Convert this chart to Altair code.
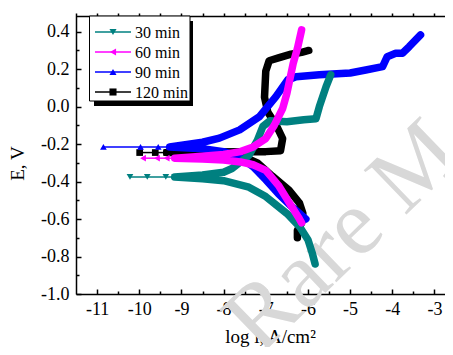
import altair as alt
import pandas as pd

# ---------------- data ----------------
series = ["30 min", "60 min", "90 min", "120 min"]
colors = ["#008080", "#ff00ff", "#0000ff", "#000000"]
shapes = ["triangle-down", "triangle-left", "triangle-up", "square"]

x_ticks = [-11, -10, -9, -8, -7, -6, -5, -4, -3]
x_minor = [-10.5, -9.5, -8.5, -7.5, -6.5, -5.5, -4.5, -3.5]
y_ticks = [-1.0, -0.8, -0.6, -0.4, -0.2, 0.0, 0.2, 0.4]
y_minor = [-0.9, -0.7, -0.5, -0.3, -0.1, 0.1, 0.3]

# 30 min
tip30_logi = [-10.22, -9.81, -9.37, -9.16, -9.02, -8.9]
tip30_E = -0.375
cath30_logi = [-9.16, -8.5, -8.0, -7.4, -7.0, -6.5, -6.2, -6.0, -5.9, -5.83]
cath30_E = [-0.375, -0.385, -0.395, -0.43, -0.48, -0.57, -0.64, -0.71, -0.78, -0.84]
anod30_logi = [-9.16, -8.5, -8.0, -7.8, -7.4, -7.2, -7.07, -6.9, -6.5, -6.1, -5.81, -5.73, -5.57, -5.46]
anod30_E = [-0.375, -0.365, -0.35, -0.33, -0.26, -0.18, -0.106, -0.075, -0.08, -0.07, -0.065, 0.0, 0.107, 0.17]

# 60 min
tip60_logi = [-9.91, -9.58, -9.35, -9.16, -9.02, -8.9]
tip60_E = -0.275
cath60_logi = [-9.16, -8.5, -8.0, -7.6, -7.3, -7.0, -6.7, -6.45, -6.2, -6.15]
cath60_E = [-0.275, -0.28, -0.285, -0.295, -0.31, -0.34, -0.42, -0.51, -0.60, -0.62]
anod60_logi = [-9.16, -8.5, -8.0, -7.6, -7.3, -7.0, -6.8, -6.6, -6.5, -6.35, -6.25, -6.15]
anod60_E = [-0.275, -0.265, -0.255, -0.24, -0.215, -0.17, -0.10, -0.01, 0.07, 0.23, 0.31, 0.41]

# 90 min
tip90_logi = [-10.85, -9.97, -9.55, -9.28, -9.12, -8.98]
tip90_E = -0.215
cath90_logi = [-9.28, -8.5, -8.0, -7.6, -7.3, -7.0, -6.7, -6.4, -6.05]
cath90_E = [-0.215, -0.225, -0.24, -0.27, -0.32, -0.39, -0.465, -0.53, -0.60]
anod90_logi = [-9.28, -8.5, -8.1, -7.62, -7.15, -6.76, -6.48, -6.28, -5.73, -5.0, -4.63,
               -4.23, -4.12, -3.92, -3.76, -3.6, -3.33]
anod90_E = [-0.215, -0.19, -0.168, -0.124, -0.053, 0.054, 0.143, 0.16, 0.17, 0.18, 0.196,
            0.214, 0.267, 0.285, 0.285, 0.32, 0.383]

# 120 min
tip120_logi = [-9.99, -9.62, -9.35]
tip120_E = -0.245
cath120_logi = [-9.35, -8.5, -7.7, -7.4, -7.2, -6.85, -6.45, -6.2, -6.12, -6.15, -6.25, -6.25]
cath120_E = [-0.245, -0.25, -0.265, -0.28, -0.30, -0.37, -0.445, -0.515, -0.57, -0.62, -0.66, -0.70]
anod120_logi = [-9.35, -8.5, -7.5, -7.0, -6.65, -6.6, -6.75, -6.95, -7.03, -7.0, -6.92, -6.7,
                -6.4, -6.15, -5.98]
anod120_E = [-0.245, -0.242, -0.24, -0.24, -0.235, -0.17, -0.10, -0.03, 0.05, 0.19, 0.245,
             0.26, 0.28, 0.29, 0.30]

data_sets = {
    "30 min": (tip30_logi, tip30_E, cath30_logi, cath30_E, anod30_logi, anod30_E),
    "60 min": (tip60_logi, tip60_E, cath60_logi, cath60_E, anod60_logi, anod60_E),
    "90 min": (tip90_logi, tip90_E, cath90_logi, cath90_E, anod90_logi, anod90_E),
    "120 min": (tip120_logi, tip120_E, cath120_logi, cath120_E, anod120_logi, anod120_E),
}

# ---------------- chart ----------------
FONT = "Liberation Serif"
W, H = 369, 281
xs = alt.Scale(domain=[-11.5, -2.75], nice=False, zero=False)
ys = alt.Scale(domain=[-1.0, 0.5], nice=False, zero=False)
one = pd.DataFrame({"a": [0]})

layers = []

# watermark
layers.append(
    alt.Chart(one).mark_text(text="Rare M", font=FONT, fontSize=94, color="#d8d8d8",
                             angle=316, align="left", baseline="alphabetic")
    .encode(x=alt.value(184), y=alt.value(343))
)

draw_order = ["120 min", "90 min", "30 min", "60 min"]
for name in draw_order:
    i = series.index(name)
    col, shp = colors[i], shapes[i]
    tl, te, cl, ce, al, ae = data_sets[name]
    band_pts = list(zip(reversed(cl), reversed(ce))) + list(zip(al[1:], ae[1:]))
    band = pd.DataFrame({"logi": [p[0] for p in band_pts], "E": [p[1] for p in band_pts],
                         "ord": list(range(len(band_pts)))})
    tip = pd.DataFrame({"logi": tl, "E": [te] * len(tl)})
    thin = pd.DataFrame({"logi": [tl[0], cl[0]], "E": [te, ce[0]]})
    layers.append(alt.Chart(thin).mark_line(color=col, strokeWidth=1.5)
                  .encode(x=alt.X("logi:Q", scale=xs, axis=None), y=alt.Y("E:Q", scale=ys, axis=None)))
    layers.append(alt.Chart(band).mark_line(color=col, strokeWidth=7.5, strokeJoin="round", strokeCap="round")
                  .encode(x=alt.X("logi:Q", scale=xs, axis=None), y=alt.Y("E:Q", scale=ys, axis=None),
                          order="ord:Q"))
    layers.append(alt.Chart(tip).mark_point(shape=shp, filled=True, color=col, size=45, opacity=1)
                  .encode(x=alt.X("logi:Q", scale=xs, axis=None), y=alt.Y("E:Q", scale=ys, axis=None)))

# axes
frame = pd.DataFrame({"logi": [-11.5, -2.75], "E": [-1.0, 0.5]})
common = dict(grid=False, domainColor="black", domainWidth=1.5, tickColor="black", tickWidth=1.5,
              labelFont=FONT, labelFontSize=18, labelColor="black", titleFont=FONT,
              titleFontSize=19, titleColor="black", titleFontWeight="normal")
xlab = "(datum.value < 0 ? '-' : '') + format(abs(datum.value), 'd')"
ylab = "(datum.value < 0 ? '-' : '') + format(abs(datum.value), '.1f')"


def axis_layer(xaxis, yaxis):
    return alt.Chart(frame).mark_point(opacity=0).encode(
        x=alt.X("logi:Q", scale=xs, axis=xaxis), y=alt.Y("E:Q", scale=ys, axis=yaxis))


layers.append(axis_layer(
    alt.Axis(orient="bottom", values=x_ticks, labelExpr=xlab, ticks=False, domain=True, labelPadding=6,
             title="log i, A/cm²", titleX=194, titleY=48, titleAlign="center",
             titleBaseline="alphabetic", **common),
    alt.Axis(orient="left", values=y_ticks, labelExpr=ylab, ticks=False, domain=True, labelPadding=7,
             title="E, V", titleX=-59, titleY=150, titleAngle=270, titleAlign="center",
             titleBaseline="middle", **common)))
layers.append(axis_layer(
    alt.Axis(orient="bottom", values=x_ticks, ticks=True, tickSize=5, offset=-5, domain=False,
             labels=False, title="", **common),
    alt.Axis(orient="left", values=y_ticks, ticks=True, tickSize=5, offset=-5, domain=False,
             labels=False, title="", **common)))
layers.append(axis_layer(
    alt.Axis(orient="bottom", values=x_minor, ticks=True, tickSize=3, offset=-3, domain=False,
             labels=False, title="", **common),
    alt.Axis(orient="left", values=y_minor, ticks=True, tickSize=3, offset=-3, domain=False,
             labels=False, title="", **common)))
layers.append(axis_layer(
    alt.Axis(orient="top", values=x_ticks, ticks=True, tickSize=3, offset=-3, domain=True,
             labels=False, title="", **common), None))
layers.append(axis_layer(
    alt.Axis(orient="top", values=x_minor, ticks=True, tickSize=3, offset=-3, domain=False,
             labels=False, title="", **common), None))

# legend (drawn in pixel space of the plot area)
layers.append(alt.Chart(one).mark_rect(color="black")
              .encode(x=alt.value(18), x2=alt.value(117), y=alt.value(8), y2=alt.value(93)))
layers.append(alt.Chart(one).mark_rect(fill="white", stroke="black", strokeWidth=1)
              .encode(x=alt.value(13.5), x2=alt.value(114), y=alt.value(3), y2=alt.value(88)))
for i, name in enumerate(series):
    py = 19 + 20 * i
    layers.append(alt.Chart(one).mark_rule(color=colors[i], strokeWidth=1.5)
                  .encode(x=alt.value(19), x2=alt.value(55), y=alt.value(py)))
    layers.append(alt.Chart(one).mark_point(shape=shapes[i], filled=True, color=colors[i], size=50, opacity=1)
                  .encode(x=alt.value(37), y=alt.value(py)))
    layers.append(alt.Chart(one).mark_text(text=name, font=FONT, fontSize=16, color="black",
                                           align="left", baseline="middle")
                  .encode(x=alt.value(59), y=alt.value(py + 1)))

chart = alt.layer(*layers).resolve_axis(x="independent", y="independent").properties(
    width=W, height=H,
    autosize=alt.AutoSizeParams(type="none"),
    padding={"left": 68, "top": 5, "right": 0, "bottom": 53},
).configure_view(stroke=None)

chart.save("out.html", embed_options={"renderer": "svg", "actions": False})
